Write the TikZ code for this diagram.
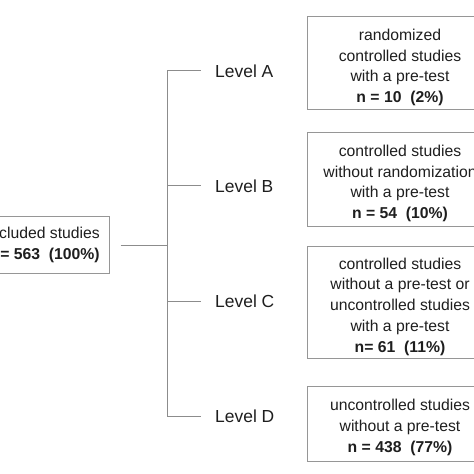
\documentclass[tikz,border=0pt]{standalone}
\usepackage{fontspec}
\setmainfont{Liberation Sans}
\definecolor{txt}{RGB}{30,30,30}
\definecolor{ln}{RGB}{140,140,140}
\definecolor{bx}{RGB}{150,150,150}
\newcommand{\topgap}{\rule{0pt}{19.5bp}}
\begin{document}
\begin{tikzpicture}[x=1bp,y=-1bp,
  box/.style={draw=bx,line width=1bp,inner sep=0pt,align=center,text=txt,
    font=\fontsize{15.8}{20.8}\selectfont},
  lvl/.style={anchor=west,inner sep=0pt,text=txt,font=\fontsize{17.5}{20}\selectfont},
  conn/.style={draw=ln,line width=1bp}]
\useasboundingbox (0,0) rectangle (474,474);
\clip (0,0) rectangle (474,474);
\node[box,minimum width=132bp,minimum height=56bp] (L) at (43,245)
  {Included studies\\\textbf{n = 563~ (100\%)}};
\node[box,minimum width=186bp,minimum height=93bp] (bA) at (400,63.5)
  {\topgap randomized\\controlled studies\\with a pre-test\\\textbf{n = 10~ (2\%)}};
\node[box,minimum width=186bp,minimum height=93bp] (bB) at (400,179.5)
  {\topgap controlled studies\\without randomization\\with a pre-test\\\textbf{n = 54~ (10\%)}};
\node[box,minimum width=186bp,minimum height=111bp] (bC) at (400,302.5)
  {\topgap controlled studies\\without a pre-test or\\uncontrolled studies\\with a pre-test\\\textbf{n= 61~ (11\%)}};
\node[box,minimum width=186bp,minimum height=75bp] (bD) at (400,423.5)
  {\topgap uncontrolled studies\\without a pre-test\\\textbf{n = 438~ (77\%)}};
\node[lvl] (lA) at (215,71) {Level A};
\node[lvl] (lB) at (215,186) {Level B};
\node[lvl] (lC) at (215,301) {Level C};
\node[lvl] (lD) at (215,416) {Level D};
\coordinate (j) at (167,245);
\coordinate (jA) at (167,71);
\coordinate (jB) at (167,186);
\coordinate (jC) at (167,301);
\coordinate (jD) at (167,416);
\draw[conn] ([xshift=11bp]L.east) -- (j);
\draw[conn] (jA) -- (jD);
\draw[conn] (jA) -- ([xshift=-14bp]lA.west);
\draw[conn] (jB) -- ([xshift=-14bp]lB.west);
\draw[conn] (jC) -- ([xshift=-14bp]lC.west);
\draw[conn] (jD) -- ([xshift=-14bp]lD.west);
\end{tikzpicture}
\end{document}
